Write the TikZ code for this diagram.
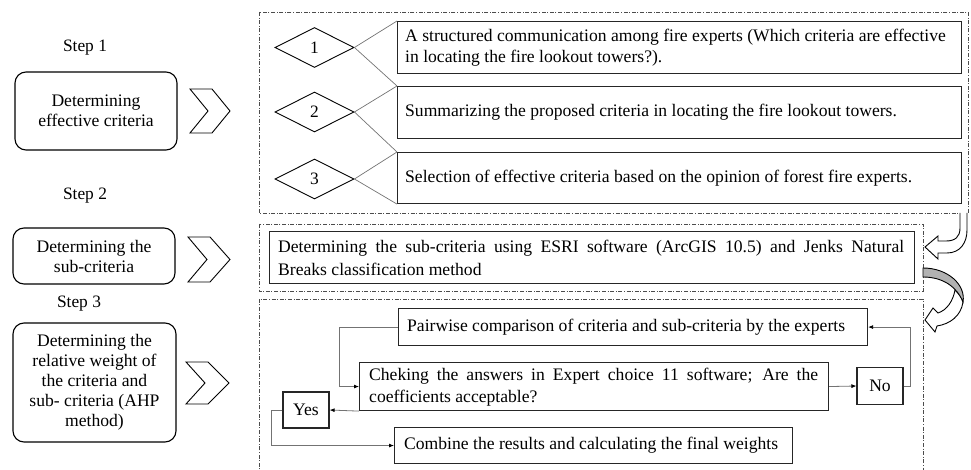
\documentclass[tikz,border=0pt]{standalone}
\usepackage{fontspec}
\setmainfont{Liberation Serif}
\usetikzlibrary{shapes.geometric,arrows.meta}
\tikzset{
  lbox/.style={draw=black, line width=1.1pt, rounded corners=11pt, inner sep=0pt, align=center,
    font=\fontsize{17.6}{20}\selectfont},
  rbox/.style={draw=black!85, line width=1.1pt, inner sep=0pt},
  sbox/.style={draw=black!85, line width=1.1pt, inner sep=0pt, font=\fontsize{17.6}{20}\selectfont},
  txt/.style={inner sep=0pt, anchor=west, align=left, font=\fontsize{17.6}{21.5}\selectfont},
  steplbl/.style={inner sep=0pt, font=\fontsize{17.4}{20}\selectfont},
  dia/.style={draw=black, line width=0.9pt, diamond, aspect=2, minimum width=79pt, minimum height=40pt,
    inner sep=0pt, font=\fontsize{17.4}{20}\selectfont},
  chev/.style={draw=black, line width=0.9pt, fill=white},
  ddbox/.style={draw=black!70, line width=0.8pt, dash pattern=on 4pt off 1.6pt on 1pt off 1.6pt},
  gline/.style={draw=black!55, line width=0.7pt},
  conn/.style={draw=black!55, line width=0.8pt, -{Latex[length=5pt,width=4pt,black]}},
}
\begin{document}
\begin{tikzpicture}[x=1pt,y=-1pt]
\useasboundingbox (0,0) rectangle (971,470);

% step labels
\node[steplbl] (s1) at (85,48) {Step 1};
\node[steplbl] (s2) at (85,196) {Step 2};
\node[steplbl] (s3) at (79,304) {Step 3};

% left boxes
\node[lbox, minimum width=162pt, minimum height=78pt] (l1) at (96,111) {Determining\\effective criteria};
\node[lbox, minimum width=162pt, minimum height=56pt] (l2) at (94,256) {Determining the\\sub-criteria};
\node[lbox, minimum width=163pt, minimum height=119pt] (l3) at (94.5,382.5) {Determining the\\relative weight of\\the criteria and\\sub- criteria (AHP\\method)};

% chevrons
\draw[chev] (190,89) -- (212,89) -- (230,111) -- (212,133) -- (190,133) -- (208,111) -- cycle;
\draw[chev] (188,237) -- (210,237) -- (230,259.5) -- (210,282) -- (188,282) -- (207,259.5) -- cycle;
\draw[chev] (186,362) -- (208,362) -- (229,383) -- (208,404) -- (186,404) -- (205,383) -- cycle;

% dash-dot frames
\draw[ddbox] (259,12) rectangle (968,213);
\draw[ddbox] (259,224) rectangle (923,291);
\draw[ddbox] (259,475) -- (259,299) -- (923,299) -- (923,475);

% step 1 content
\node[dia] (d1) at (314.5,47.5) {1};
\node[dia] (d2) at (314.5,112) {2};
\node[dia] (d3) at (314.5,179) {3};
\node[rbox, anchor=north west, minimum width=564pt, minimum height=52pt] (r1) at (397,21) {};
\node[rbox, anchor=north west, minimum width=564pt, minimum height=52pt] (r2) at (397,86) {};
\node[rbox, anchor=north west, minimum width=564pt, minimum height=51pt] (r3) at (397,152) {};
\node[txt] (t1) at (405,47.5) {A structured communication among fire experts (Which criteria are effective\\in locating the fire lookout towers?).};
\node[txt] (t2) at (405,112) {Summarizing the proposed criteria in locating the fire lookout towers.};
\node[txt] (t3) at (405,178) {Selection of effective criteria based on the opinion of forest fire experts.};
\draw[gline] (d1.east) -- (r1.north west);
\draw[gline] (d1.east) -- (r2.north west);
\draw[gline] (d2.east) -- (r2.north west);
\draw[gline] (d2.east) -- (r3.north west);
\draw[gline] (d3.east) -- (r3.north west);
\draw[gline] (d3.east) -- (r3.south west);

% step 2 content
\node[rbox, anchor=north west, minimum width=645pt, minimum height=52pt] (e1) at (269,231) {};
\node[inner sep=0pt, anchor=west] (et) at (278,257.5) {\parbox{626pt}{\fontsize{17.6}{23}\selectfont\hyphenpenalty=10000
Determining the sub-criteria using ESRI software (ArcGIS 10.5) and Jenks Natural\linebreak Breaks classification method}};

% step 3 content
\node[sbox, anchor=north west, minimum width=469pt, minimum height=37pt] (pw) at (398,308) {};
\node[txt] (pwt) at (407,327) {Pairwise comparison of criteria and sub-criteria by the experts};
\node[sbox, anchor=north west, minimum width=469pt, minimum height=48pt] (ck) at (359,362) {};
\node[inner sep=0pt, anchor=west] (ckt) at (369,387) {\parbox{449pt}{\fontsize{17.6}{22}\selectfont\hyphenpenalty=10000
Cheking the answers in Expert choice 11 software; Are the\linebreak coefficients acceptable?}};
\node[sbox, minimum width=46pt, minimum height=36pt] (yes) at (306,410) {Yes};
\node[sbox, minimum width=46pt, minimum height=37pt] (no) at (880,386) {No};
\node[sbox, anchor=north west, minimum width=398pt, minimum height=36pt] (cb) at (394,427) {};
\node[txt] (cbt) at (404,445.5) {Combine the results and calculating the final weights};

\draw[conn] (pw.west) -- ++(-59,0) |- (ck.west);
\draw[conn] (ck.east) -- (no.west);
\draw[conn] (no.east) -- ++(7,0) |- (pw.east);
\draw[conn] (ck.south west) -- (yes.east);
\draw[conn] (yes.west) -- ++(-11,0) |- (cb.west);

% curved block arrows
\draw[line width=0.9pt, fill=white] (960,213) -- (960,228) .. controls (960,237) and (955,241) .. (946,241) -- (938,241) -- (938,236) -- (925,247) -- (938,259) -- (938,253) -- (947,253) .. controls (960,253) and (967,243) .. (967,230) -- (967,213);
\draw[line width=0.9pt, fill=white] (963,302) .. controls (961,316) and (950,324) .. (937,326) -- (935,332) -- (925,320) -- (933,308) -- (938,313) .. controls (947,310) and (953,301) .. (955,290) .. controls (959,294) and (962,298) .. (963,302) -- cycle;
\draw[line width=0.9pt, fill=black!30] (923,268) .. controls (948,268) and (966,285) .. (963,302) .. controls (957,287) and (943,277) .. (923,277) -- cycle;
\end{tikzpicture}
\end{document}
